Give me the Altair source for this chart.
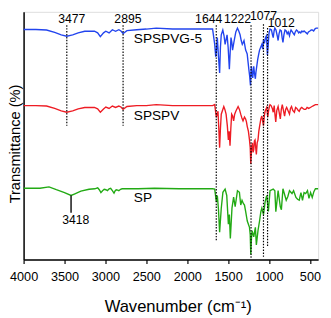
import altair as alt
import pandas as pd

# ---------------- data ----------------
# wavenumber (cm-1) and transmittance (arbitrary, offset-stacked units)
blue_w = [4000, 3850, 3720, 3620, 3540, 3472, 3400, 3333, 3253, 3134, 3095, 3062, 3023, 2995, 2955, 2915, 2876, 2836, 2810, 2784, 2737, 2617, 2500, 2379, 2180, 2000, 1800, 1690,
          1664, 1652, 1644, 1632, 1618, 1604, 1594, 1584, 1565, 1550, 1537, 1525, 1513, 1500, 1485, 1475, 1465, 1455, 1446, 1436, 1426, 1406, 1386, 1370, 1354, 1340, 1327, 1316, 1306, 1296, 1286, 1276, 1267, 1257, 1247, 1237, 1227, 1220, 1215, 1207, 1199, 1193, 1187, 1177, 1167, 1160, 1155, 1147, 1139, 1128, 1116, 1102, 1088, 1077, 1068, 1056, 1044, 1032, 1020, 1012, 1000, 988,
          970, 958, 949, 938, 929, 915, 900, 889, 878, 865, 850, 840, 830, 818, 805, 790, 778, 765, 750, 740, 731, 715, 700, 691, 680, 665, 651, 638, 625, 612, 598, 585, 572, 558, 545, 532, 518, 500, 485, 472, 455, 440, 425, 400]
blue_t = [240.5, 240.5, 240, 237.5, 235, 233.5, 235, 237, 238.7, 238.7, 237, 233, 237, 238.7, 237, 240.3, 238.7, 240.3, 239, 236.3, 239.3, 240.3, 241, 242, 241, 241, 241, 241,
          225, 212, 217, 232, 212, 195, 222, 235, 240, 234, 225, 230, 235, 222, 199, 217, 232, 227, 219, 224, 229, 238, 242, 239, 235, 229, 225, 227, 229, 224, 219, 217, 215, 207, 199, 192, 182, 197, 202, 194, 190, 196, 202, 194, 189, 196, 199, 204, 209, 214, 219, 222, 225, 220, 230, 226, 232, 234, 214, 222, 237, 241,
          240, 235, 232, 239, 242, 240, 234, 229, 236, 240, 239, 232, 227, 235, 240, 239, 236, 238, 234, 238, 240, 238, 236, 235, 238, 240, 239, 237, 238, 237, 239, 238, 239, 238, 237, 236, 238, 239, 240, 240, 239, 241, 242, 242]

red_w = [4000, 3850, 3720, 3620, 3540, 3472, 3400, 3333, 3253, 3134, 3095, 3062, 3023, 2995, 2955, 2915, 2876, 2836, 2810, 2784, 2737, 2617, 2500, 2379, 2180, 2000, 1800, 1690,
         1664, 1655, 1644, 1624, 1614, 1604, 1594, 1584, 1553, 1540, 1525, 1510, 1497, 1487, 1477, 1467, 1457, 1445, 1433, 1420, 1406, 1378, 1362, 1346, 1332, 1318, 1300, 1286, 1276, 1266, 1252, 1239, 1230, 1223, 1213, 1203, 1195, 1187, 1179, 1171, 1163, 1155, 1145, 1135, 1125, 1116, 1100, 1088, 1078, 1068, 1058, 1048, 1028, 1016, 1005, 996,
         988, 975, 960, 949, 937, 928, 918, 905, 889, 876, 862, 850, 838, 824, 810, 797, 785, 770, 750, 738, 725, 710, 690, 675, 660, 645, 631, 615, 600, 585, 570, 552, 535, 515, 495, 475, 455, 433, 400]
red_t = [161, 161, 160.5, 158, 155.5, 154, 155.5, 157.5, 159, 159, 157.5, 154, 157.5, 159.5, 158, 160.5, 159, 160.5, 159.5, 157, 160, 161, 161, 162, 161, 161, 161, 161,
         162, 156, 149, 155, 137, 117, 137, 152, 160, 157, 152, 140, 125, 134, 119, 137, 152, 150, 145, 152, 155, 160, 157, 152, 148, 145, 149, 147, 144, 139, 134, 125, 117, 100, 117, 122, 112, 115, 124, 125, 117, 110, 122, 125, 134, 139, 147, 150, 145, 140, 150, 155, 159, 149, 156, 160,
         162, 161, 158, 154, 161, 152, 144, 156, 160, 154, 147, 157, 162, 156, 150, 157, 159, 156, 152, 158, 160, 156, 154, 159, 158, 156, 155, 158, 159, 158, 157, 157, 159, 158, 159, 160, 161, 162, 162]

green_w = [4000, 3800, 3690, 3600, 3500, 3420, 3380, 3300, 3200, 3130, 3094, 3075, 3055, 3035, 3015, 2995, 2975, 2955, 2936, 2915, 2895, 2880, 2868, 2850, 2836, 2815, 2796, 2600, 2400, 2100, 1800, 1690,
           1664, 1644, 1632, 1618, 1604, 1584, 1564, 1537, 1517, 1497, 1485, 1473, 1453, 1433, 1414, 1386, 1362, 1346, 1330, 1314, 1300, 1286, 1266, 1239, 1230, 1223, 1215, 1207, 1187, 1167, 1155, 1135, 1116, 1100, 1088, 1068, 1048, 1028, 1008, 988,
           949, 929, 917, 889, 862, 849, 830, 790, 770, 750, 719, 700, 671, 651, 631, 610, 591, 572, 552, 530, 512, 492, 472, 452, 433, 400]
green_t = [74.5, 74.5, 76, 73, 70, 67, 68.5, 71.5, 73.5, 74, 75, 73, 70, 72, 73.5, 73, 72, 74, 74.5, 72, 69.5, 72, 73, 72.5, 72, 73.5, 74, 74, 74.5, 74, 74, 74,
           73.7, 60.3, 67, 52, 28.7, 53.7, 70.3, 73.7, 67, 37, 47, 22, 53.7, 65.3, 55.3, 72, 70.3, 57, 62, 58.7, 57, 50.3, 40.3, 33.7, 26, 5.3, 22, 30.3, 23.7, 33.7, 15.3, 30.3, 40.3, 50, 53.7, 47, 60.3, 67, 50.3, 72,
           73.7, 72, 50, 72, 55, 52, 74, 62, 66, 72, 69, 72, 65, 63, 62, 70, 62, 70, 69, 72, 64, 70, 65, 71, 74, 74]

series_names = ["SPSPVG-5", "SPSPV", "SP"]
series_colors = ["#2244ee", "#ee1c24", "#22aa14"]

# dotted marker lines: wavenumber, top, bottom
mark_w = [3472, 2784, 1645, 1220, 1068, 1018]
mark_top = [245, 245, 245, 245, 246, 242]
mark_bot = [140, 140, 19, 2, 3, 14]

# peak labels
peak_text = ["3477", "2895", "1644", "1222", "1077", "1012"]
peak_w = [3412, 2725, 1738, 1385, 1068, 850]
peak_t = [251, 251, 251, 251, 255, 247.5]

# solid SP marker
sp_w = [3420]
sp_top = [67]
sp_bot = [49]
sp_label_w = [3362]
sp_label_t = [41]

# series labels
name_w = [2653, 2653, 2653]
name_t = [230, 150, 64]

# ---------------- build tables ----------------
rows = []
for name, ws, ts in zip(series_names, [blue_w, red_w, green_w], [blue_t, red_t, green_t]):
    for w, t in zip(ws, ts):
        rows.append({"series": name, "w": w, "t": t})
spec = pd.DataFrame(rows)

marks = pd.DataFrame({"w": mark_w, "top": mark_top, "bot": mark_bot})
peaks = pd.DataFrame({"w": peak_w, "t": peak_t, "label": peak_text})
sp_line = pd.DataFrame({"w": sp_w, "top": sp_top, "bot": sp_bot})
sp_lab = pd.DataFrame({"w": sp_label_w, "t": sp_label_t, "label": ["3418"]})
names = pd.DataFrame({"w": name_w, "t": name_t, "label": series_names})

FONT = "Liberation Sans"

xscale = alt.Scale(domain=[4000, 400], nice=False, zero=False)
yscale = alt.Scale(domain=[0, 259], nice=False, zero=False)

xaxis = alt.Axis(
    values=list(range(500, 4001, 250)),
    labelExpr="datum.value % 500 == 0 ? datum.value : ''",
    title="Wavenumber (cm\u207b\u00b9)",
    grid=False, tickSize=4, tickColor="black", tickWidth=1.2,
    domainColor="black", domainWidth=1.5,
    labelFontSize=13, labelColor="black", labelPadding=7, labelFont=FONT,
    labelFlush=False, labelOverlap=False,
    titleFontSize=17, titleFontWeight="normal", titleColor="black", titleFont=FONT,
    titlePadding=16, titleX=158,
)
yaxis = alt.Axis(
    labels=False, ticks=False, grid=False,
    title="Transmittance (%)", domainColor="black", domainWidth=1.5,
    titleFontSize=15, titleFontWeight="normal", titleColor="black", titleFont=FONT,
    titleX=-1, titleY=135, titleAngle=270, titleBaseline="bottom", titleAlign="center",
)

lines = alt.Chart(spec).mark_line(strokeWidth=1.4).encode(
    x=alt.X("w:Q", scale=xscale, axis=xaxis),
    y=alt.Y("t:Q", scale=yscale, axis=yaxis),
    color=alt.Color("series:N", scale=alt.Scale(domain=series_names, range=series_colors), legend=None),
    detail="series:N",
)

dotted = alt.Chart(marks).mark_rule(color="black", strokeWidth=1.2, strokeDash=[1.5, 1.5]).encode(
    x=alt.X("w:Q", scale=xscale), y=alt.Y("top:Q", scale=yscale), y2="bot:Q"
)

solid = alt.Chart(sp_line).mark_rule(color="black", strokeWidth=1.4).encode(
    x=alt.X("w:Q", scale=xscale), y=alt.Y("top:Q", scale=yscale), y2="bot:Q"
)

peak_txt = alt.Chart(peaks).mark_text(fontSize=12.5, font=FONT, color="black", align="center", baseline="middle").encode(
    x=alt.X("w:Q", scale=xscale), y=alt.Y("t:Q", scale=yscale), text="label:N"
)

sp_txt = alt.Chart(sp_lab).mark_text(fontSize=12.5, font=FONT, color="black", align="center", baseline="middle").encode(
    x=alt.X("w:Q", scale=xscale), y=alt.Y("t:Q", scale=yscale), text="label:N"
)

name_txt = alt.Chart(names).mark_text(fontSize=14, font=FONT, color="black", align="left", baseline="middle").encode(
    x=alt.X("w:Q", scale=xscale), y=alt.Y("t:Q", scale=yscale), text="label:N"
)

chart = alt.layer(lines, dotted, solid, peak_txt, sp_txt, name_txt).properties(
    width=302, height=254,
    autosize=alt.AutoSizeParams(type="none"),
    padding={"left": 16, "top": 0, "right": 5, "bottom": 56},
).configure_view(stroke="black", strokeWidth=1.5).configure(font=FONT)

chart.save("out.html", embed_options={"renderer": "svg", "actions": False})
